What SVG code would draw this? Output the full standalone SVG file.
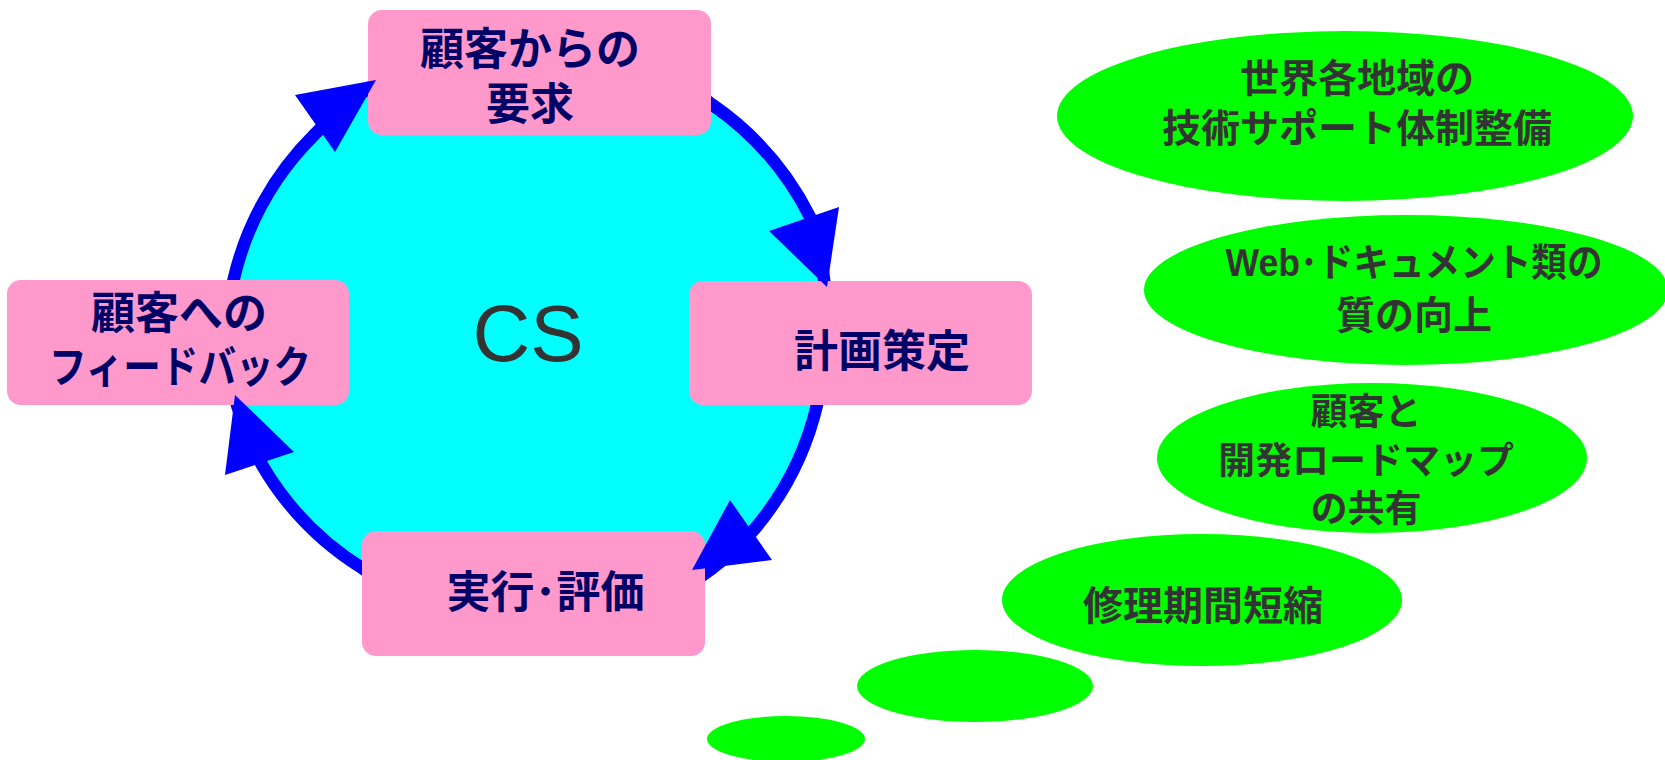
<svg xmlns="http://www.w3.org/2000/svg" width="1665" height="760" viewBox="0 0 1665 760">
<style>
.box{fill:#FF99CC}
.btxt{font-family:"Liberation Sans","Noto Sans CJK JP",sans-serif;font-weight:700;font-size:44px;fill:#000066;text-anchor:middle}
.bub{fill:#00FF00}
.gtxt{font-family:"Liberation Sans","Noto Sans CJK JP",sans-serif;font-weight:700;fill:#333333;text-anchor:middle}
.arc{fill:none;stroke:#0000FF;stroke-width:12.5}
.head{fill:#0000FF}
</style>
<defs>
<mask id="boxmask" maskUnits="userSpaceOnUse" x="0" y="0" width="1665" height="760">
<rect x="0" y="0" width="1665" height="760" fill="#fff"/>
<rect x="368" y="10" width="343" height="125" rx="14" fill="#000"/>
<rect x="7" y="280" width="342" height="125" rx="14" fill="#000"/>
<rect x="689" y="281" width="343" height="124" rx="14" fill="#000"/>
<rect x="362" y="531" width="343" height="125" rx="14" fill="#000"/>
</mask>
</defs>
<rect width="1665" height="760" fill="#fff"/>
<g id="cs">
<path d="M527 38 A300 300 0 0 1 712 104.5 A300 300 0 0 1 810 217 A300 300 0 0 1 826 320 A300 300 0 0 1 817 405 A300 300 0 0 1 752 532 A300 300 0 0 1 560 628 A300 300 0 0 1 362 568 A300 300 0 0 1 262 465 A300 300 0 0 1 229 370 A300 300 0 0 1 233.5 280 A300 300 0 0 1 315 134 A300 300 0 0 1 527 38 Z" fill="#00FFFF"/>
<text x="528" y="361" font-family="Liberation Sans, Arial, sans-serif" font-size="80" fill="#333333" text-anchor="middle">CS</text>
</g>
<g id="connectors">
<g mask="url(#boxmask)">
<path class="arc" d="M527 38 A300 300 0 0 1 712 104.5 A300 300 0 0 1 810 217 A300 300 0 0 1 826 320"/>
<path class="arc" d="M826 320 A300 300 0 0 1 817 405 A300 300 0 0 1 752 532 A300 300 0 0 1 560 628"/>
<path class="arc" d="M560 628 A300 300 0 0 1 362 568 A300 300 0 0 1 262 465 A300 300 0 0 1 229 370"/>
<path class="arc" d="M229 370 A300 300 0 0 1 233.5 280 A300 300 0 0 1 315 134 A300 300 0 0 1 527 38"/>
</g>
</g>
<g id="request">
<rect class="box" x="368" y="10" width="343" height="125" rx="14"/>
<text class="btxt" x="530" y="65">顧客からの</text>
<text class="btxt" x="530" y="120">要求</text>
</g>
<g id="feedback">
<rect class="box" x="7" y="280" width="342" height="125" rx="14"/>
<text class="btxt" x="179" y="329">顧客への</text>
<text class="btxt" x="180" y="383" textLength="262" lengthAdjust="spacingAndGlyphs">フィードバック</text>
</g>
<g id="plan">
<rect class="box" x="689" y="281" width="343" height="124" rx="14"/>
<text class="btxt" x="882" y="367">計画策定</text>
</g>
<g id="execute">
<rect class="box" x="362" y="531" width="343" height="125" rx="14"/>
<text class="btxt" x="545.5" y="608">実行･評価</text>
</g>
<g id="arrowheads">
<polygon class="head" points="295,95 376,80 335,152"/>
<polygon class="head" points="769,231 839,207 827,287"/>
<polygon class="head" points="730,500 772,560 692,570"/>
<polygon class="head" points="235,395 294,452 225,475"/>
</g>
<g id="bubble1">
<ellipse class="bub" cx="1345" cy="116" rx="288" ry="85"/>
<text class="gtxt" font-size="39" x="1357" y="92">世界各地域の</text>
<text class="gtxt" font-size="39" x="1357" y="141.5">技術サポート体制整備</text>
</g>
<g id="bubble2">
<ellipse class="bub" cx="1406" cy="290" rx="262" ry="75"/>
<text class="gtxt" font-size="39" x="1414" y="275.5" textLength="377" lengthAdjust="spacingAndGlyphs">Web･ドキュメント類の</text>
<text class="gtxt" font-size="39" x="1414" y="329">質の向上</text>
</g>
<g id="bubble3">
<ellipse class="bub" cx="1372" cy="458" rx="215" ry="75"/>
<text class="gtxt" font-size="37" x="1366" y="424.7">顧客と</text>
<text class="gtxt" font-size="37" x="1366" y="474">開発ロードマップ</text>
<text class="gtxt" font-size="37" x="1366" y="522.4">の共有</text>
</g>
<g id="bubble4">
<ellipse class="bub" cx="1202" cy="600" rx="200" ry="66"/>
<text class="gtxt" font-size="40" x="1203" y="620">修理期間短縮</text>
</g>
<g id="bubble5">
<ellipse class="bub" cx="975" cy="686" rx="118" ry="36"/>
</g>
<g id="bubble6">
<ellipse class="bub" cx="786" cy="739" rx="79" ry="23"/>
</g>
</svg>
